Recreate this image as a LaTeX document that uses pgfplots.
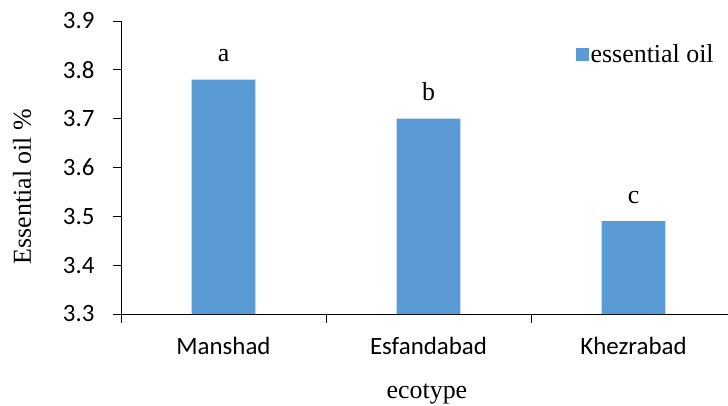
\documentclass[border=0pt]{standalone}
\usepackage{fontspec}
\setmainfont{Liberation Serif}
\newfontfamily\calfont{Carlito}
\usepackage{pgfplots}
\pgfplotsset{compat=1.18}
\definecolor{barblue}{HTML}{5B9BD5}

\begin{document}
\begin{tikzpicture}
  \begin{axis}[
    scale only axis,
    width=607bp, height=293bp,
    ymin=3.3, ymax=3.9,
    ytick={3.3,3.4,...,3.9},
    xmin=-0.5, xmax=2.461,
    xtick={0,1,2},
    xticklabels={Manshad, Esfandabad, Khezrabad},
    minor xtick={-0.5,0.5,1.5},
    axis x line*=bottom, axis y line*=left,
    axis line style={line width=0.8bp, black},
    tick align=outside,
    major tick length=8bp, minor tick length=9bp,
    major x tick style={draw=none},
    minor x tick style={line width=0.8bp, black},
    y tick style={line width=0.8bp, black},
    /pgf/number format/assume math mode=true,
    yticklabel style={/pgf/number format/fixed, /pgf/number format/precision=1,
      /pgf/number format/fixed zerofill, font=\calfont\fontsize{25}{30}\selectfont,
      xshift=-15bp},
    xticklabel style={font=\calfont\fontsize{25}{30}\selectfont, yshift=-12bp},
    ylabel={Essential oil \%},
    xlabel={ecotype},
    label style={font=\fontsize{26}{31}\selectfont},
    ylabel style={at={(axis description cs:-0.163,0.435)}, anchor=center, rotate=0},
    xlabel style={at={(axis description cs:0.504,0)}, anchor=center, yshift=-80bp},
    ybar, bar width=0.312,
    nodes near coords,
    point meta=explicit symbolic,
    nodes near coords style={font=\fontsize{26}{31}\selectfont, anchor=base, yshift=18bp},
    legend style={at={(rel axis cs:0.980,0.887)}, anchor=east, draw=none, fill=none,
      font=\fontsize{26}{31}\selectfont, inner sep=0pt},
    legend image code/.code={\fill[#1] (-2bp,-6.5bp) rectangle (11bp,6.5bp);},
  ]
    \addplot[fill=barblue, draw=none] coordinates {
      (0,3.78) [a]
      (1,3.70) [b]
      (2,3.49) [c]
    };
    \legend{essential oil}
  \end{axis}
  \pgfresetboundingbox
  \path ([xshift=-121bp,yshift=-92bp]current axis.south west)
    rectangle ([yshift=21bp]current axis.north east);
\end{tikzpicture}
\end{document}
